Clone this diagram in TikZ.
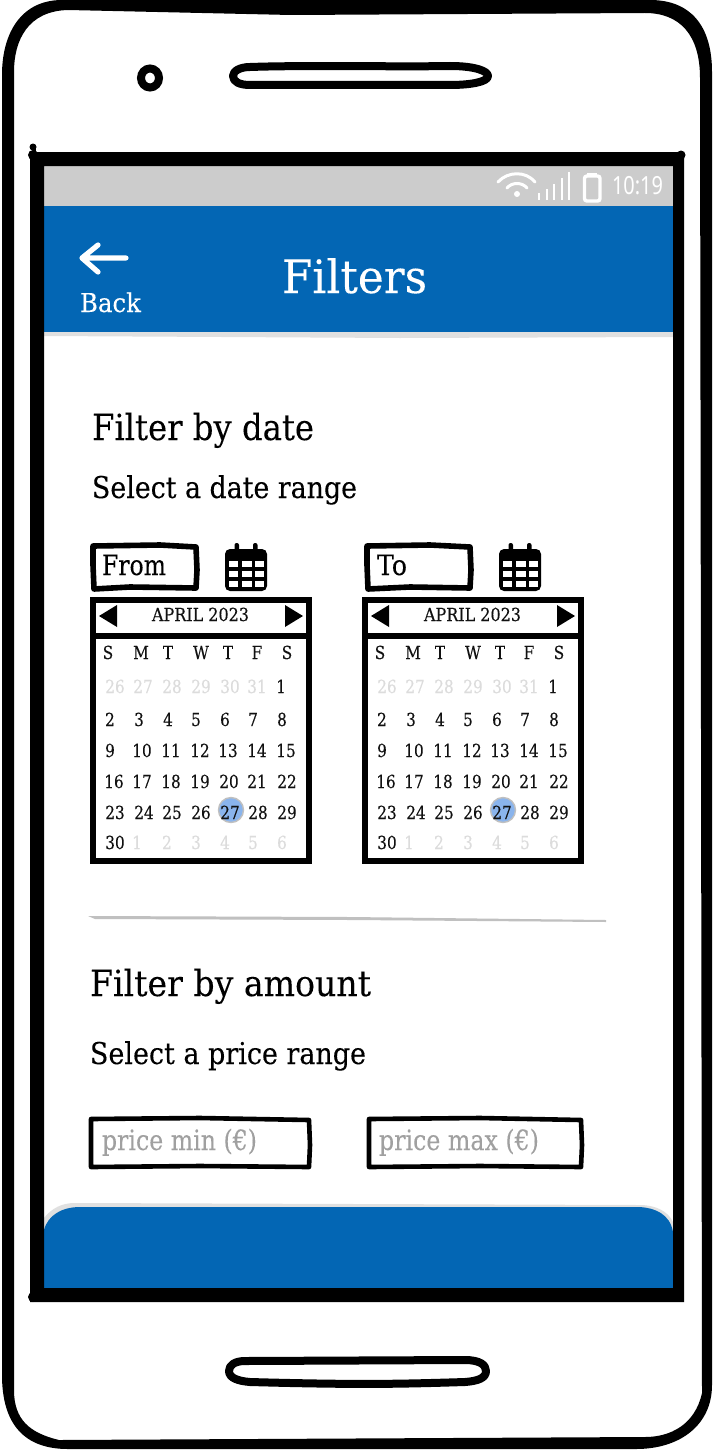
\documentclass[tikz,border=0pt]{standalone}
\usepackage{fontspec}
\usepackage{graphicx}
\setmainfont{DejaVu Serif}[FakeStretch=0.85,FakeBold=0.12]
\newfontfamily\statusfont{Noto Sans}
\newdimen\pxu \pxu=0.5pt
\newcommand\fitw[2]{\resizebox{#1\pxu}{\height}{#2}}
\definecolor{barblue}{HTML}{0366B4}
\definecolor{statusgrey}{HTML}{CCCCCC}
\definecolor{shadowgrey}{HTML}{E0E0E0}
\definecolor{hintgrey}{HTML}{A0A0A0}
\definecolor{offday}{HTML}{DCDCDC}
\definecolor{dayblack}{HTML}{111111}
\definecolor{todayblue}{HTML}{8AB4EC}
\definecolor{ruleGrey}{HTML}{C0C0C0}
\tikzset{
  x=0.5pt,y=-0.5pt,
  label/.style={inner sep=0pt,outer sep=0pt,anchor=base west,text=black},
  day/.style={inner sep=0pt,outer sep=0pt,anchor=base,font=\fontsize{9}{9}\selectfont,text=dayblack},
  off/.style={day,text=offday},
  sketch/.style={draw=black,line width=2.8pt,line join=round,line cap=round},
  thinsketch/.style={draw=black,line width=2.3pt,line join=round,line cap=round},
  speaker/.style={draw=black,line width=4pt,line join=round},
  whiteline/.style={draw=white,line width=1.5pt,line cap=round,line join=round},
  hint/.style={label,text=hintgrey,font=\fontsize{14}{14}\selectfont},
}
\begin{document}
\begin{tikzpicture}
\useasboundingbox (0,0) rectangle (712,1450);
\fill[white] (0,0) rectangle (712,1450);
% phone body
\fill[black,even odd rule]
  (2,75) .. controls (2,32) and (22,0) .. (62,0) -- (650,0)
  .. controls (690,0) and (712,25) .. (712,72) -- (712,1385)
  .. controls (712,1425) and (680,1449) .. (636,1449) -- (68,1449)
  .. controls (25,1449) and (2,1425) .. (2,1375) -- cycle
  (14,72) .. controls (14,40) and (28,11) .. (68,10) -- (291,15) -- (645,13)
  .. controls (680,13) and (700,35) .. (700,78) -- (702,1393)
  .. controls (695,1425) and (670,1437) .. (645,1437) -- (59,1440)
  .. controls (30,1433) and (14,1420) .. (14,1390) -- cycle;
% speakers and camera
\draw[speaker] (250,67) .. controls (305,65) and (400,67) .. (450,66)
  .. controls (475,66) and (488,71) .. (488,76) .. controls (488,82) and (470,85) .. (450,85)
  -- (250,85) .. controls (240,85) and (233,82) .. (233,76) .. controls (233,71) and (240,67) .. (250,67) -- cycle;
\draw[speaker] (245,1361) -- (465,1360) .. controls (480,1360) and (486,1365) .. (486,1371)
  .. controls (486,1378) and (478,1381) .. (465,1382) .. controls (400,1384) and (360,1385) .. (250,1382)
  .. controls (238,1381) and (229,1378) .. (229,1371) .. controls (229,1365) and (235,1361) .. (245,1361) -- cycle;
\draw[black,line width=4pt] (150,78) ellipse [x radius=9,y radius=9.5];
% screen
\fill[white] (44,166) rectangle (673,1288);
\fill[statusgrey] (44,166) rectangle (673,206);
\fill[shadowgrey] (44,330) -- (673,332) -- (673,337) -- (400,338) -- (44,336) -- cycle;
\fill[barblue] (44,206) rectangle (673,332);
\fill[shadowgrey] (44,1218) .. controls (52,1208) and (62,1203) .. (75,1203) -- (640,1205)
  .. controls (655,1205) and (668,1211) .. (673,1222) -- (673,1240) -- (44,1240) -- cycle;
\fill[barblue] (44,1230) .. controls (48,1215) and (62,1207) .. (80,1207) -- (640,1207)
  .. controls (655,1208) and (670,1214) .. (673,1232) -- (673,1288) -- (44,1288) -- cycle;
% screen frame
\fill[black,even odd rule] (30,152) -- (684,152) -- (684,1302) -- (30,1302) -- cycle
  (44,166) -- (673,166) -- (673,1288) -- (44,1288) -- cycle;
\fill[black] (33,155) circle [radius=5];
\fill[black] (33,147) circle [radius=3.5];
\fill[black] (33,149) rectangle (36,158);
\fill[black] (681,155) circle [radius=4.5];
\fill[black] (33,1297) circle [radius=5];
% status bar icons
\fill[white] (517,194) circle [radius=3];
\draw[whiteline] (498,182) .. controls (508,171) and (526,171) .. (535,182);
\draw[whiteline] (507,188) .. controls (512,182) and (522,182) .. (527,188);
\foreach \bx/\by in {539/193,547/189,554/184,562/178,569/172}
  \draw[draw=white,line width=1.4pt] (\bx,\by) -- (\bx,200);
\draw[draw=white,line width=1.7pt,rounded corners=1.2pt] (584.5,176) rectangle (600,201);
\fill[white] (587,172.5) rectangle (597,177);
\node[label,text=white,font=\statusfont\fontsize{12.5}{12.5}\selectfont] (clock) at (612,194) {\fitw{51}{10:19}};
% header
\draw[draw=white,line width=2.6pt,line cap=round,line join=round] (126,258) -- (82,258) (98,245) -- (82,258) -- (98,272);
\node[label,text=white,font=\fontsize{13}{13}\selectfont] (back) at (80,312) {\fitw{61}{Back}};
\node[label,text=white,font=\fontsize{23}{23}\selectfont] (title) at (282,293) {\fitw{145}{Filters}};
% section texts
\node[label,font=\fontsize{18}{18}\selectfont] (h1) at (92,440) {\fitw{222}{Filter by date}};
\node[label,font=\fontsize{15}{15}\selectfont] (s1) at (92,498) {\fitw{265}{Select a date range}};
\node[label,font=\fontsize{18}{18}\selectfont] (h2) at (90,996) {\fitw{281}{Filter by amount}};
\node[label,font=\fontsize{15}{15}\selectfont] (s2) at (90,1064) {\fitw{276}{Select a price range}};
% date boxes
\draw[sketch] (93,546) -- (160,545) -- (196,547) -- (197,570) -- (196,588) -- (130,587) -- (94,589) -- (93,565) -- cycle;
\draw[sketch] (367,546) -- (430,545) -- (470,547) -- (471,570) -- (470,588) -- (410,587) -- (368,589) -- (367,565) -- cycle;
\node[label,font=\fontsize{14}{14}\selectfont] (fromlabel) at (102,575) {\fitw{64}{From}};
\node[label,font=\fontsize{14}{14}\selectfont] (tolabel) at (377,575) {\fitw{30}{To}};
% calendar icons
\foreach \ox in {0,274} {
  \begin{scope}[xshift=\ox*0.5pt]
    \fill[black,rounded corners=2.5pt] (225,549) rectangle (267,591);
    \fill[black,rounded corners=1pt] (234.5,543) rectangle (239,552);
    \fill[black,rounded corners=1pt] (253,543) rectangle (257.5,552);
    \foreach \cx/\cw in {229/9,242/10,255/9}
      \foreach \cy/\ch in {561/5.5,571/6,581/5.5}
        \fill[white] (\cx,\cy) rectangle ++(\cw,\ch);
  \end{scope}
}
% calendars
\foreach \cid/\off in {a/0,b/272} {
  \begin{scope}[xshift=\off*0.5pt]
    \fill[todayblue,draw=ruleGrey,line width=0.7pt] (231,810) circle [radius=12.5];
    \draw[black,line width=3pt] (93,600) rectangle (309,861);
    \draw[black,line width=3pt] (93,636) -- (309,636);
    \fill[black] (99,616) -- (117,605) -- (117,627) -- cycle;
    \fill[black] (303,616) -- (285,605) -- (285,627) -- cycle;
    \node[day,font=\fontsize{9}{9}\selectfont] (\cid-month) at (200.5,621) {\fitw{97}{APRIL 2023}};
    \foreach \dx/\dt [count=\i] in {108/S,141/M,168/T,201/W,228/T,257/F,287/S}
      \node[day] (\cid-head\i) at (\dx,659) {\dt};
    \foreach \dx/\dt [count=\i] in {115/26,143/27,172/28,201/29,230/30,257/31}
      \node[off] (\cid-prev\i) at (\dx,693) {\dt};
    \node[day] (\cid-one) at (281,693) {1};
    \foreach \dx/\dt [count=\i] in {110/2,139/3,168/4,196/5,225/6,253/7,282/8}
      \node[day] (\cid-r\i) at (\dx,726) {\dt};
    \foreach \dx/\dt [count=\i] in {110/9,142/10,171/11,200/12,228/13,257/14,286/15}
      \node[day] (\cid-s\i) at (\dx,757) {\dt};
    \foreach \dx/\dt [count=\i] in {114/16,142/17,171/18,200/19,229/20,257/21,287/22}
      \node[day] (\cid-t\i) at (\dx,788) {\dt};
    \foreach \dx/\dt [count=\i] in {115/23,144/24,172/25,201/26,230/27,258/28,287/29}
      \node[day] (\cid-u\i) at (\dx,819) {\dt};
    \node[day] (\cid-thirty) at (115,849) {30};
    \foreach \dx/\dt [count=\i] in {137/1,167/2,196/3,225/4,253/5,282/6}
      \node[off] (\cid-next\i) at (\dx,849) {\dt};
  \end{scope}
}
% divider
\fill[ruleGrey] (88,916) -- (350,917) -- (606,920) -- (606,922) -- (350,920) -- (95,919) -- cycle;
% price boxes
\draw[thinsketch] (91,1119) -- (200,1118) -- (309,1120) -- (310,1145) -- (309,1167) -- (200,1166) -- (91,1167) -- (91,1140) -- cycle;
\draw[thinsketch] (369,1119) -- (480,1118) -- (581,1120) -- (582,1145) -- (581,1167) -- (480,1166) -- (369,1167) -- (369,1140) -- cycle;
\node[hint] (pmin) at (102,1150) {\fitw{155}{price min (€)}};
\node[hint] (pmax) at (379,1150) {\fitw{160}{price max (€)}};
\end{tikzpicture}
\end{document}
